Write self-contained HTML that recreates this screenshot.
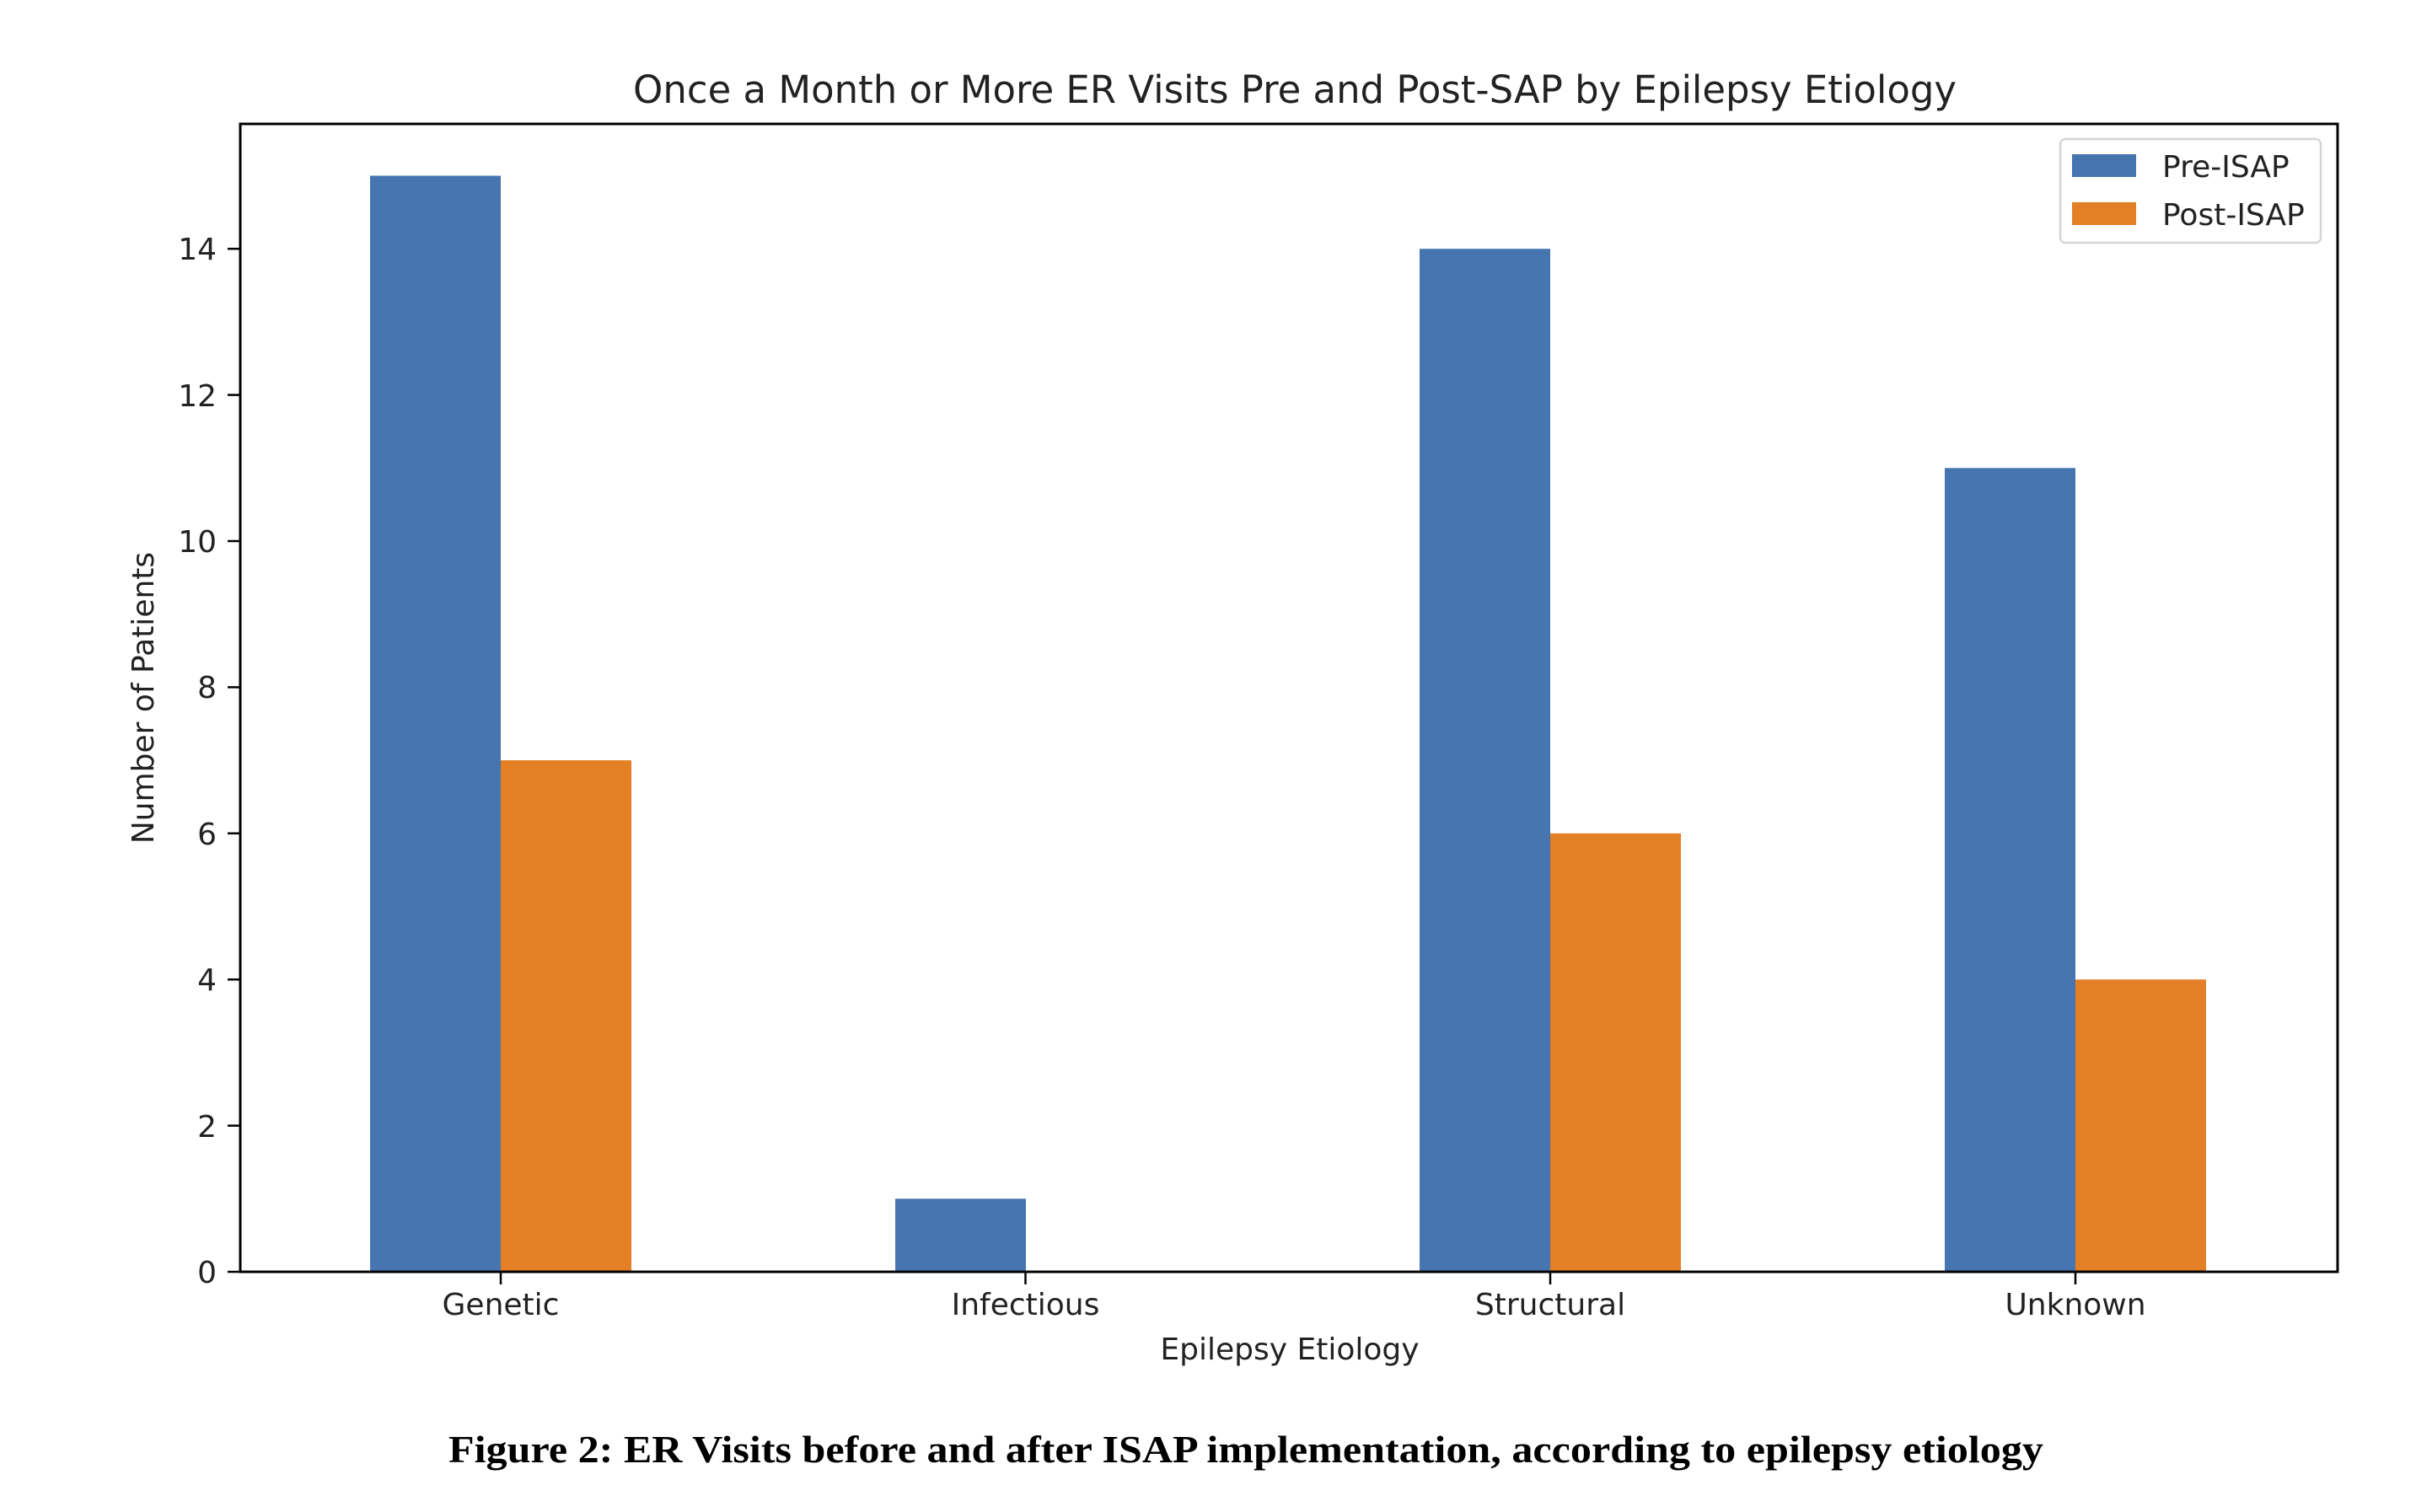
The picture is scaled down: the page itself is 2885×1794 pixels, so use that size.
<!DOCTYPE html>
<html><head><meta charset="utf-8"><style>html,body{margin:0;padding:0;background:#fff;}svg{display:block}</style></head>
<body>
<svg width="2885" height="1794" viewBox="0 0 2885 1794" xmlns="http://www.w3.org/2000/svg">
<rect width="2885" height="1794" fill="#fff"/>
<g font-family="DejaVu Sans, sans-serif" fill="#222">
<text x="751" y="122" font-size="45" textLength="1570" lengthAdjust="spacingAndGlyphs">Once a Month or More ER Visits Pre and Post-SAP by Epilepsy Etiology</text>
</g>
<g fill="#4775b0">
<rect x="439" y="208.5" width="155" height="1300.5"/>
<rect x="1062" y="1422.3" width="155" height="86.7"/>
<rect x="1684" y="295.2" width="155" height="1213.8"/>
<rect x="2307" y="555.3" width="155" height="953.7"/>
</g>
<g fill="#e37f25">
<rect x="594" y="902.1" width="155" height="606.9"/>
<rect x="1839" y="988.8" width="155" height="520.2"/>
<rect x="2462" y="1162.2" width="155" height="346.8"/>
</g>
<rect x="285" y="147" width="2488" height="1362" fill="none" stroke="#000" stroke-width="3"/>
<g stroke="#000" stroke-width="2.5">
<line x1="270" y1="1509" x2="285" y2="1509"/>
<line x1="270" y1="1335.6" x2="285" y2="1335.6"/>
<line x1="270" y1="1162.2" x2="285" y2="1162.2"/>
<line x1="270" y1="988.8" x2="285" y2="988.8"/>
<line x1="270" y1="815.4" x2="285" y2="815.4"/>
<line x1="270" y1="642" x2="285" y2="642"/>
<line x1="270" y1="468.6" x2="285" y2="468.6"/>
<line x1="270" y1="295.2" x2="285" y2="295.2"/>
<line x1="594" y1="1509" x2="594" y2="1524"/>
<line x1="1216.5" y1="1509" x2="1216.5" y2="1524"/>
<line x1="1839" y1="1509" x2="1839" y2="1524"/>
<line x1="2462" y1="1509" x2="2462" y2="1524"/>
</g>
<g font-family="DejaVu Sans, sans-serif" font-size="36" fill="#222" text-anchor="end">
<text x="257" y="1522">0</text>
<text x="257" y="1349">2</text>
<text x="257" y="1175">4</text>
<text x="257" y="1002">6</text>
<text x="257" y="828">8</text>
<text x="257" y="655">10</text>
<text x="257" y="482">12</text>
<text x="257" y="308">14</text>
</g>
<g font-family="DejaVu Sans, sans-serif" font-size="36" fill="#222" text-anchor="middle">
<text x="594" y="1560">Genetic</text>
<text x="1216.5" y="1560">Infectious</text>
<text x="1839" y="1560">Structural</text>
<text x="2462" y="1560">Unknown</text>
<text x="1530" y="1613">Epilepsy Etiology</text>
<text transform="translate(182,828) rotate(-90)" x="0" y="0">Number of Patients</text>
</g>
<rect x="2444" y="165" width="309" height="123" rx="6" fill="#fff" stroke="#d5d5d5" stroke-width="2.5"/>
<rect x="2458" y="183" width="76" height="27" fill="#4775b0"/>
<rect x="2458" y="240" width="76" height="27" fill="#e37f25"/>
<g font-family="DejaVu Sans, sans-serif" font-size="36" fill="#222">
<text x="2565" y="210">Pre-ISAP</text>
<text x="2565" y="267">Post-ISAP</text>
</g>
<text x="532" y="1735" font-family="Liberation Serif, serif" font-weight="bold" font-size="46" textLength="1892" lengthAdjust="spacingAndGlyphs" fill="#000">Figure 2: ER Visits before and after ISAP implementation, according to epilepsy etiology</text>
</svg>
</body></html>
